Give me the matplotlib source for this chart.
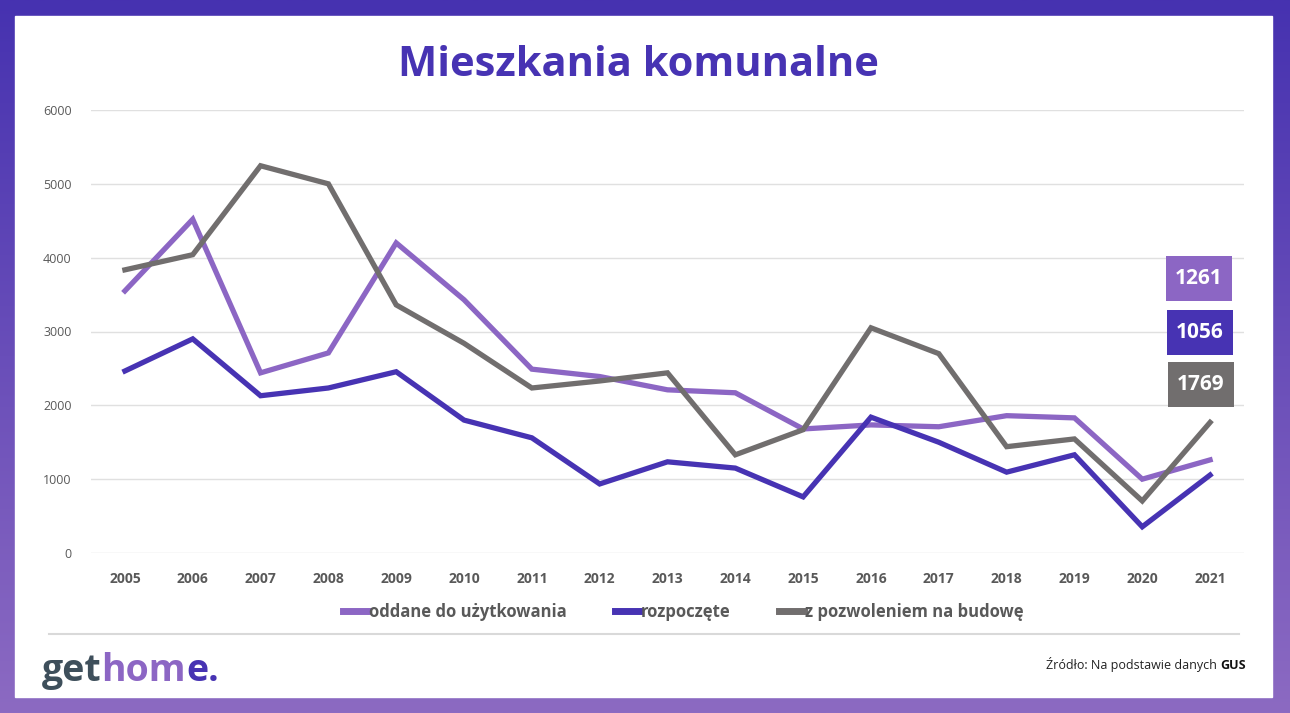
import numpy as np
import matplotlib.pyplot as plt
from matplotlib.patches import Rectangle
from matplotlib.lines import Line2D

plt.rcParams['font.family'] = ['Open Sans', 'DejaVu Sans']

years = [str(y) for y in range(2005, 2022)]
oddane = [3550, 4520, 2440, 2710, 4200, 3430, 2490, 2390, 2210, 2170, 1680, 1735, 1710, 1860, 1830, 1000, 1261]
rozpoczete = [2465, 2900, 2130, 2235, 2455, 1800, 1560, 935, 1235, 1150, 760, 1840, 1500, 1095, 1330, 355, 1056]
pozwolenia = [3835, 4040, 5245, 5000, 3360, 2840, 2235, 2330, 2440, 1330, 1670, 3050, 2700, 1440, 1545, 705, 1769]
y_ticks = [0, 1000, 2000, 3000, 4000, 5000, 6000]

c_light = '#8C66C4'
c_dark = '#4733B3'
c_gray = '#716E6E'
W, H = 1290, 713

fig = plt.figure(figsize=(12.9, 7.13), dpi=100)

# gradient border + white panel
bg = fig.add_axes([0, 0, 1, 1], zorder=-10)
grad = np.linspace(0, 1, 256).reshape(-1, 1)
top = np.array([0x46, 0x32, 0xB0]) / 255
bot = np.array([0x8C, 0x6A, 0xC2]) / 255
img = top + (bot - top) * grad[:, :, None]
bg.imshow(img, aspect='auto', extent=[0, W, H, 0])
bg.add_patch(Rectangle((15, 16), 1272 - 15, 697 - 16, color='white'))
bg.plot([49, 1239], [634, 634], color='#D9D9D9', lw=1.5)
bg.set_xlim(0, W)
bg.set_ylim(H, 0)
bg.axis('off')

ax = fig.add_axes([91 / W, 1 - 553 / H, (1244 - 91) / W, (553 - 110) / H])
x = np.arange(len(years))
ax.plot(x, oddane, color=c_light, lw=3.8, solid_joinstyle='miter', label='oddane do użytkowania')
ax.plot(x, rozpoczete, color=c_dark, lw=3.8, solid_joinstyle='miter', label='rozpoczęte')
ax.plot(x, pozwolenia, color=c_gray, lw=3.8, solid_joinstyle='miter', label='z pozwoleniem na budowę')
ax.set_xlim(-0.5, len(years) - 0.5)
ax.set_ylim(0, 6000)
ax.set_yticks(y_ticks)
ax.set_xticks(x)
ax.set_xticklabels(years, fontweight='bold', fontsize=10, color='#595959')
ax.set_yticklabels([str(v) for v in y_ticks], fontsize=9, color='#595959')
ax.tick_params(length=0)
ax.tick_params(axis='x', pad=14)
ax.tick_params(axis='y', pad=14)
ax.grid(axis='y', color='#E0E0E0', lw=1)
ax.set_axisbelow(True)
for s in ax.spines.values():
    s.set_visible(False)
ax.patch.set_alpha(0)

handles = [Line2D([], [], color=c, lw=5) for c in (c_light, c_dark, c_gray)]
leg = fig.legend(handles, ['oddane do użytkowania', 'rozpoczęte', 'z pozwoleniem na budowę'],
                 loc='center', bbox_to_anchor=(683 / W, 1 - 612 / H), ncol=3, frameon=False,
                 handlelength=1.5, handletextpad=0.05, columnspacing=2.9,
                 prop={'weight': 'bold', 'size': 12})
for t in leg.get_texts():
    t.set_color('#595959')

fig.text(638 / W, 1 - 65 / H, 'Mieszkania komunalne', ha='center', va='center',
         fontsize=30, fontweight='bold', color=c_dark)

# overlay for value boxes (above gridlines)
fg = fig.add_axes([0, 0, 1, 1], zorder=10)
fg.set_xlim(0, W)
fg.set_ylim(H, 0)
fg.axis('off')
boxes = [(1166, 256, c_light, oddane[-1]), (1167, 310, c_dark, rozpoczete[-1]), (1168, 362, c_gray, pozwolenia[-1])]
for bx, by, c, v in boxes:
    fg.add_patch(Rectangle((bx, by), 66, 45, color=c, lw=0))
    fg.text(bx + 33, by + 23, str(v), ha='center', va='center', color='white',
            fontsize=15, fontweight='bold')

# logo
t1 = fg.text(42, 681, 'get', fontsize=27, fontweight='bold', color='#3E4F5B', va='baseline')
t2 = fg.annotate('hom', xy=(1, 0), xycoords=t1, va='bottom', fontsize=27,
                 fontweight='bold', color=c_light)
fg.annotate('e.', xy=(1, 0), xycoords=t2, va='bottom', fontsize=27,
            fontweight='bold', color=c_dark)

s2 = fg.text(1246, 669, 'GUS', ha='right', va='baseline', fontsize=9,
             fontweight='bold', color='#111111')
fg.annotate('Źródło: Na podstawie danych ', xy=(0, 0), xycoords=s2, ha='right', va='bottom',
            fontsize=9, color='#222222')

fig.savefig('out.png', dpi=100)
